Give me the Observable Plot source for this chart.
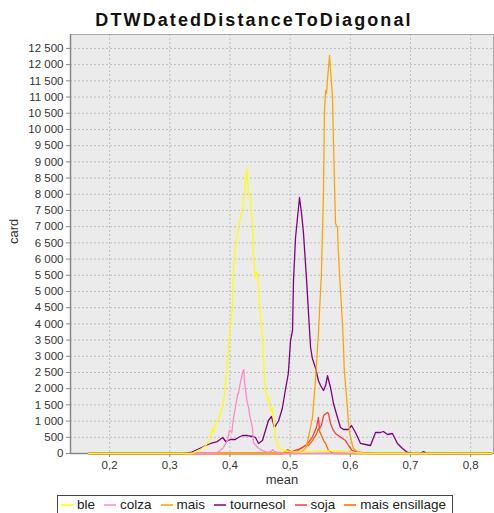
<!DOCTYPE html>
<html>
<head>
<meta charset="utf-8">
<script src="https://cdn.jsdelivr.net/npm/d3@7"></script>
<script src="https://cdn.jsdelivr.net/npm/@observablehq/plot@0.6"></script>
<style>
  html, body { margin: 0; padding: 0; background: #fff; }
  body { width: 494px; height: 513px; overflow: hidden; position: relative; font-family: "Liberation Sans", Arial, sans-serif; }
  #title { position: absolute; top: 11px; left: 7px; width: 494px; text-align: center; font-weight: bold; font-size: 18px; line-height: 18px; letter-spacing: 2.1px; color: #111; }
  #chart { position: absolute; top: 30px; left: 0; }
  #legend { position: absolute; top: 495px; left: 57px; width: 396px; height: 20px; border: 1px solid #444; box-sizing: border-box; display: flex; align-items: center; font-size: 13.5px; line-height: 14px; color: #222; white-space: nowrap; padding-left: 3px; }
  .item { display: flex; align-items: center; margin-right: 9px; }
  .item svg { margin-right: 4px; }
</style>
</head>
<body>
<div id="title">DTWDatedDistanceToDiagonal</div>
<div id="chart"></div>
<div id="legend"></div>
<script>
// ---- data (mean, card) ----
const seriesNames = ["ble", "colza", "mais", "tournesol", "soja", "mais ensillage"];
const seriesColors = ["#ffff00", "#ff88cc", "#ffa500", "#800080", "#ff3b3b", "#ff6600"];

const ble = [[0.165,0],[0.335,0],[0.340,20],[0.346,80],[0.351,123],[0.360,247],[0.368,494],[0.371,772],[0.373,648],[0.376,926],[0.381,1080],[0.388,1481],[0.391,1852],[0.393,2253],[0.396,2870],[0.398,3487],[0.404,4506],[0.406,5740],[0.411,6666],[0.414,6975],[0.421,7561],[0.423,7808],[0.428,8796],[0.431,8024],[0.434,7900],[0.438,6790],[0.439,6049],[0.442,5431],[0.444,5586],[0.446,5493],[0.449,4629],[0.454,3580],[0.458,2037],[0.4625,1650],[0.465,1700],[0.468,1300],[0.4705,1400],[0.4725,1000],[0.476,494],[0.481,185],[0.489,93],[0.500,60],[0.517,40],[0.540,60],[0.560,80],[0.580,90],[0.600,40],[0.620,10],[0.640,0],[0.835,0]];

const colza = [[0.165,0],[0.360,0],[0.370,20],[0.379,31],[0.388,154],[0.396,400],[0.399,710],[0.403,650],[0.406,1110],[0.409,1420],[0.413,1850],[0.414,1850],[0.418,2250],[0.421,2500],[0.423,2590],[0.424,2250],[0.428,1640],[0.431,1420],[0.433,1170],[0.4375,770],[0.439,340],[0.446,185],[0.454,90],[0.462,40],[0.468,60],[0.471,120],[0.474,60],[0.479,40],[0.490,20],[0.510,0],[0.835,0]];

const mais = [[0.165,0],[0.510,0],[0.5173,30],[0.5256,154],[0.5306,494],[0.5372,1111],[0.542,2253],[0.547,3703],[0.552,5555],[0.5555,8116],[0.557,10492],[0.559,11202],[0.5605,11110],[0.562,11510],[0.5638,11912],[0.5655,12283],[0.567,11881],[0.5704,10986],[0.572,9659],[0.5754,7098],[0.5787,6975],[0.580,6265],[0.5837,5030],[0.587,4012],[0.5887,3271],[0.590,2561],[0.5953,1400],[0.597,926],[0.6003,494],[0.605,154],[0.6136,30],[0.630,0],[0.835,0]];

const tournesol = [[0.165,0],[0.323,0],[0.335,31],[0.346,123],[0.360,247],[0.368,309],[0.379,370],[0.388,494],[0.393,370],[0.401,432],[0.409,432],[0.414,494],[0.421,555],[0.429,555],[0.4375,525],[0.4425,494],[0.4475,309],[0.454,400],[0.459,710],[0.464,1018],[0.469,1142],[0.474,802],[0.481,1018],[0.487,1389],[0.492,1944],[0.497,2469],[0.5007,3487],[0.504,3796],[0.5056,5339],[0.509,6666],[0.5123,7283],[0.5156,7900],[0.519,7406],[0.5222,6800],[0.5272,5400],[0.5306,4320],[0.534,3271],[0.537,2932],[0.542,2654],[0.547,2253],[0.5505,2098],[0.5555,1944],[0.559,2098],[0.5621,2400],[0.5671,2037],[0.5721,1543],[0.5787,1111],[0.5837,802],[0.5887,740],[0.597,740],[0.602,864],[0.6086,648],[0.617,309],[0.6252,278],[0.6336,247],[0.6419,648],[0.650,648],[0.6551,679],[0.6618,586],[0.670,617],[0.6784,309],[0.6867,154],[0.695,31],[0.7033,0],[0.716,0],[0.7216,60],[0.728,0],[0.835,0]];

const soja = [[0.165,0],[0.490,0],[0.4974,31],[0.5173,150],[0.5256,247],[0.5306,340],[0.537,500],[0.5437,800],[0.547,1111],[0.5487,770],[0.552,860],[0.5555,1170],[0.562,1265],[0.5638,1234],[0.567,930],[0.5704,770],[0.5754,617],[0.580,555],[0.587,463],[0.592,400],[0.597,247],[0.603,93],[0.609,60],[0.620,30],[0.640,0],[0.835,0]];

const maisEnsillage = [[0.165,0],[0.488,0],[0.496,120],[0.503,30],[0.510,60],[0.5256,247],[0.5306,247],[0.537,400],[0.5437,600],[0.547,770],[0.552,555],[0.5555,400],[0.559,309],[0.5638,93],[0.5721,0],[0.835,0]];

const xTicks = [0.2, 0.3, 0.4, 0.5, 0.6, 0.7, 0.8];
const yTicks = d3.range(0, 12501, 500);

// ---- build ----
const allSeries = [ble, colza, mais, tournesol, soja, maisEnsillage];
const fmtY = d => d3.format(",")(d).replace(/,/g, " ");
const fmtX = d => d3.format(".1f")(d).replace(".", ",");

// draw last series first so that "ble" ends up on top
const lineMarks = allSeries.map((s, i) => ({s, i})).reverse().map(({s, i}) =>
  Plot.line(s, {x: d => d[0], y: d => d[1], stroke: seriesColors[i], strokeWidth: 1.3})
);

const chart = Plot.plot({
  width: 494,
  height: 460,
  marginLeft: 70,
  marginRight: 1,
  marginTop: 4,
  marginBottom: 37,
  x: {domain: [0.135, 0.838]},
  y: {domain: [0, 12930]},
  style: {fontFamily: "'Liberation Sans', Arial, sans-serif", fontSize: "11.5px", color: "#333", background: "transparent"},
  marks: [
    Plot.frame({fill: "#ebebeb"}),
    Plot.gridX(xTicks, {stroke: "#bdbdbd", strokeOpacity: 1, strokeDasharray: "2,2"}),
    Plot.gridY(yTicks, {stroke: "#bdbdbd", strokeOpacity: 1, strokeDasharray: "2,2"}),
    Plot.axisX(xTicks, {tickFormat: fmtX, tickSize: 4, tickPadding: 3, label: null, stroke: "#888"}),
    Plot.axisY(yTicks, {tickFormat: fmtY, tickSize: 4, tickPadding: 3, label: null, stroke: "#888"}),
    Plot.frame({stroke: "#aaa"}),
    Plot.ruleY([0], {stroke: "#888", strokeWidth: 1.5}),
    Plot.ruleX([0.135], {stroke: "#888", strokeWidth: 1.5}),
    ...lineMarks,
    Plot.text(["mean"], {frameAnchor: "bottom", dy: 30, fontSize: 13, fill: "#333"}),
    Plot.text(["card"], {frameAnchor: "left", dx: -57, rotate: -90, fontSize: 13, fill: "#333"})
  ]
});
document.getElementById("chart").appendChild(chart);

const legend = document.getElementById("legend");
seriesNames.forEach((name, i) => {
  const item = document.createElement("span");
  item.className = "item";
  const svg = document.createElementNS("http://www.w3.org/2000/svg", "svg");
  svg.setAttribute("width", "12");
  svg.setAttribute("height", "4");
  const ln = document.createElementNS("http://www.w3.org/2000/svg", "line");
  ln.setAttribute("x1", "0"); ln.setAttribute("x2", "12");
  ln.setAttribute("y1", "2"); ln.setAttribute("y2", "2");
  ln.setAttribute("stroke", seriesColors[i]);
  ln.setAttribute("stroke-width", "1.5");
  svg.appendChild(ln);
  const label = document.createElement("span");
  label.textContent = name;
  item.appendChild(svg);
  item.appendChild(label);
  legend.appendChild(item);
});
</script>
</body>
</html>
